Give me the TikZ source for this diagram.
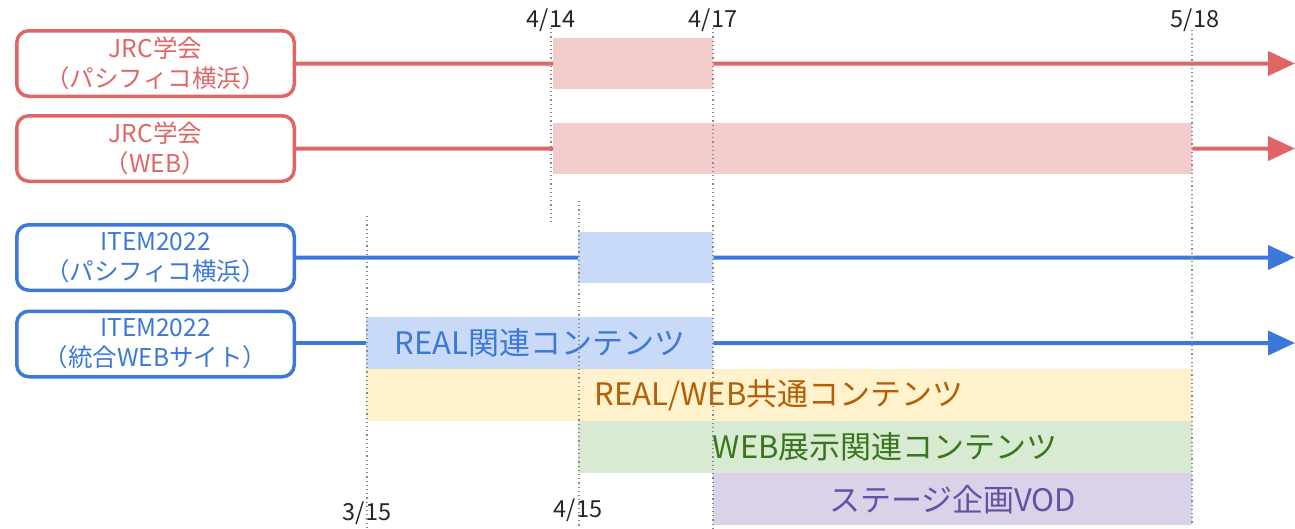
\documentclass[tikz,border=0pt]{standalone}
\usepackage{fontspec}
\setmainfont{Noto Sans CJK JP}
\usetikzlibrary{arrows.meta}
\definecolor{jred}{HTML}{E06666}
\definecolor{jpink}{HTML}{F4CCCC}
\definecolor{iblue}{HTML}{3C78D8}
\definecolor{ibfill}{HTML}{C9DAF8}
\definecolor{yfill}{HTML}{FFF2CC}
\definecolor{ytext}{HTML}{B45F06}
\definecolor{gfill}{HTML}{D9EAD3}
\definecolor{gtext}{HTML}{38761D}
\definecolor{pfill}{HTML}{D9D2E9}
\definecolor{ptext}{HTML}{674EA7}
\definecolor{dotc}{HTML}{888888}
\tikzset{
  lanebox/.style={line width=3.5pt, rounded corners=12pt, minimum width=277.5pt, minimum height=65.5pt, inner sep=0pt, align=center, font=\fontsize{24.5}{30}\selectfont},
  bar/.style={inner sep=0pt, anchor=north west},
  bartext/.style={font=\fontsize{31}{34}\selectfont, inner sep=0pt},
  lane/.style={line width=4pt},
  arr/.style={line width=4pt, -{Triangle[length=27pt,width=24pt]}},
  vdot/.style={dotc, line width=1.2pt, dash pattern=on 1.2pt off 3pt},
  datelbl/.style={font=\fontsize{23.5}{26}\selectfont, text=black!85, inner sep=0pt}
}
\begin{document}
\begin{tikzpicture}[x=1pt,y=-1pt]
\useasboundingbox (0,0) rectangle (1295,528);
% boxes
\node[lanebox, draw=jred, fill=white, text=jred] (jrcA) at (155.5,63.5) {JRC学会\\（パシフィコ横浜）};
\node[lanebox, draw=jred, fill=white, text=jred] (jrcW) at (155.5,148.5) {JRC学会\\（WEB）};
\node[lanebox, draw=iblue, fill=white, text=iblue] (itemA) at (155.5,257.5) {ITEM2022\\（パシフィコ横浜）};
\node[lanebox, draw=iblue, fill=white, text=iblue] (itemW) at (155.5,344) {ITEM2022\\（統合WEBサイト）};
% bars
\node[bar, fill=jpink, minimum width=160pt, minimum height=51pt] (pinkA) at (553,38) {};
\node[bar, fill=jpink, minimum width=639pt, minimum height=51pt] (pinkW) at (553,123) {};
\node[bar, fill=ibfill, minimum width=135pt, minimum height=51pt] (blueA) at (578,232) {};
\node[bar, fill=ibfill, minimum width=347pt, minimum height=52pt] (real) at (366,317) {};
\node[bar, fill=yfill, minimum width=826pt, minimum height=52pt] (common) at (366,369) {};
\node[bar, fill=gfill, minimum width=614pt, minimum height=52pt] (webx) at (578,421) {};
\node[bar, fill=pfill, minimum width=479pt, minimum height=52pt] (vod) at (713,473) {};
\node[bartext, text=iblue] (realt) at (real.center) {REAL関連コンテンツ};
\node[bartext, text=ytext] (commont) at (common.center) {REAL/WEB共通コンテンツ};
\node[bartext, text=gtext] (webxt) at (webx.center) {WEB展示関連コンテンツ};
\node[bartext, text=ptext] (vodt) at (vod.center) {ステージ企画VOD};
% end coordinates
\coordinate (eA) at (1295,63.5);
\coordinate (eW) at (1295,148.5);
\coordinate (eIA) at (1295,257.5);
\coordinate (eIW) at (1295,343);
% lanes
\draw[lane, jred] (jrcA.east) -- (pinkA.west);
\draw[arr, jred] (pinkA.east) -- (eA);
\draw[lane, jred] (jrcW.east) -- (pinkW.west);
\draw[arr, jred] (pinkW.east) -- (eW);
\draw[lane, iblue] (itemA.east) -- (blueA.west);
\draw[arr, iblue] (blueA.east) -- (eIA);
\draw[lane, iblue] (itemW.east |- real.west) -- (real.west);
\draw[arr, iblue] (real.east) -- (eIW);
% date labels
\node[datelbl] (d414) at (551,20) {4/14};
\node[datelbl] (d417) at (713,20) {4/17};
\node[datelbl] (d518) at (1195,20) {5/18};
\node[datelbl] (d315) at (367,513) {3/15};
\node[datelbl] (d415) at (578,510) {4/15};
% dotted guides
\coordinate (g414t) at (551,28); \coordinate (g414b) at (551,224);
\coordinate (g417t) at (713,28); \coordinate (g417b) at (713,528);
\coordinate (g518t) at (1192,30); \coordinate (g518b) at (1192,525);
\coordinate (g315t) at (367,216); \coordinate (g315b) at (367,528);
\coordinate (g415t) at (579,201); \coordinate (g415b) at (579,528);
\draw[vdot] (g414t) -- (g414b);
\draw[vdot] (g417t) -- (g417b);
\draw[vdot] (g518t) -- (g518b);
\draw[vdot] (g315t) -- (g315b);
\draw[vdot] (g415t) -- (g415b);
\end{tikzpicture}
\end{document}
